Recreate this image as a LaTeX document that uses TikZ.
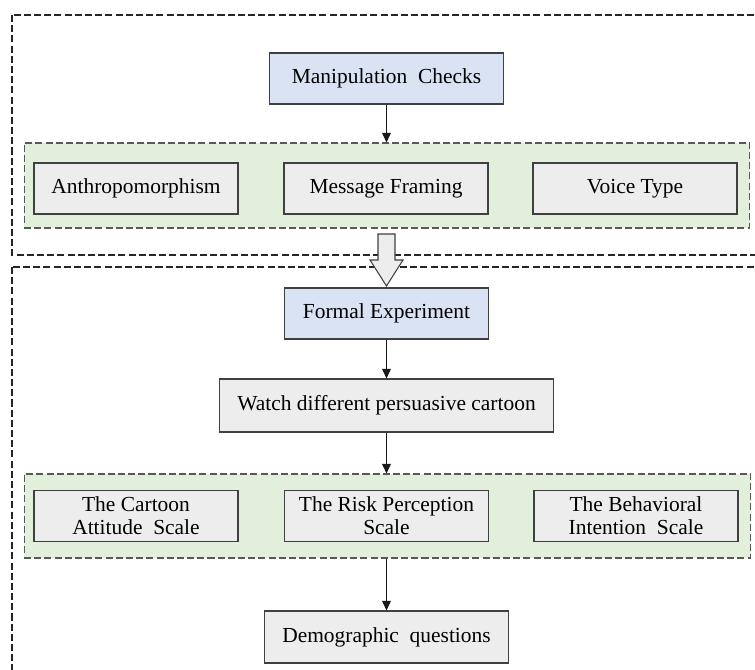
\documentclass[tikz,border=0pt]{standalone}
\usepackage{fontspec}
\setmainfont{Liberation Serif}
\usepackage{tikz}
\usetikzlibrary{arrows.meta}

\begin{document}
\begin{tikzpicture}
	[x=0.02cm,y=-0.02cm,line cap=butt,
	%Styles
	stage/.style={draw=boxline,line width=0.6pt,fill=#1,minimum width=4.08cm,minimum height=1.02cm,inner sep=2pt,align=center,font=\fontsize{12.2}{13.2}\selectfont},
	stage/.default=itemgray,
	group/.style={draw=groupline,fill=groupgreen,line width=0.6pt,dash pattern=on 4pt off 1.8pt,inner sep=0pt},
	frame line/.style={draw=black!85,line width=0.6pt,dash pattern=on 4pt off 1.8pt},
	flow/.style={-{Triangle[length=5.5pt,width=5pt]},line width=0.65pt,black!90}
	]
	
	%Colors
	\colorlet{boxline}{black!75}
	\definecolor{itemgray}{HTML}{EDEDED}
	\definecolor{headblue}{HTML}{DAE3F3}
	\definecolor{groupgreen}{HTML}{E2EFDA}
	\colorlet{groupline}{black!65}
	
	\path[use as bounding box,clip] (0,0) rectangle (755,670);
	
	%The frames
	\draw[frame line] (12,15) rectangle (775,255);
	\draw[frame line] (12,267) rectangle (775,690);
	
	%Manipulation checks
	\node[stage=headblue,minimum width=4.68cm] (manip) at (386.5,78.5) {Manipulation~~Checks};
	\node[group,minimum width=14.52cm,minimum height=1.7cm] (checks) at (387,185.5) {};
	\node[stage] (anthro) at (136,188.5) {Anthropomorphism};
	\node[stage] (framing) at (386,188.5) {Message Framing};
	\node[stage] (voice) at (635,188.5) {Voice Type};
	
	\draw[flow] (manip.south) -- (manip.south |- checks.north);
	
	%Hollow arrow between the two parts
	\coordinate (link) at (386.5,234);
	\draw[boxline,fill=itemgray,line width=0.6pt,line join=miter] (link) ++(-8.5,0) -- ++(0,26) -- ++(-8,0)
		-- ++(16.5,26) -- ++(16.5,-26) -- ++(-8,0) -- ++(0,-26) -- cycle;
	
	%Formal experiment
	\node[stage=headblue] (formal) at (386.5,313.5) {Formal Experiment};
	\node[stage,minimum width=6.7cm,minimum height=1.06cm] (watch) at (386.5,405.5) {Watch different persuasive cartoon};
	\node[group,minimum width=14.54cm,minimum height=1.68cm] (scales) at (387.5,516) {};
	\node[stage] (attitude) at (136,516) {The Cartoon\\Attitude~~Scale};
	\node[stage] (risk) at (386.5,516) {The Risk Perception\\Scale};
	\node[stage] (intention) at (636,516) {The Behavioral\\Intention~~Scale};
	\node[stage,minimum width=4.88cm,minimum height=1.04cm] (demo) at (386.5,637) {Demographic~~questions};
	
	\draw[flow] (formal) -- (watch);
	\draw[flow] (watch.south) -- (watch.south |- scales.north);
	\draw[flow] (scales.south -| demo.north) -- (demo);
\end{tikzpicture}
\end{document}
